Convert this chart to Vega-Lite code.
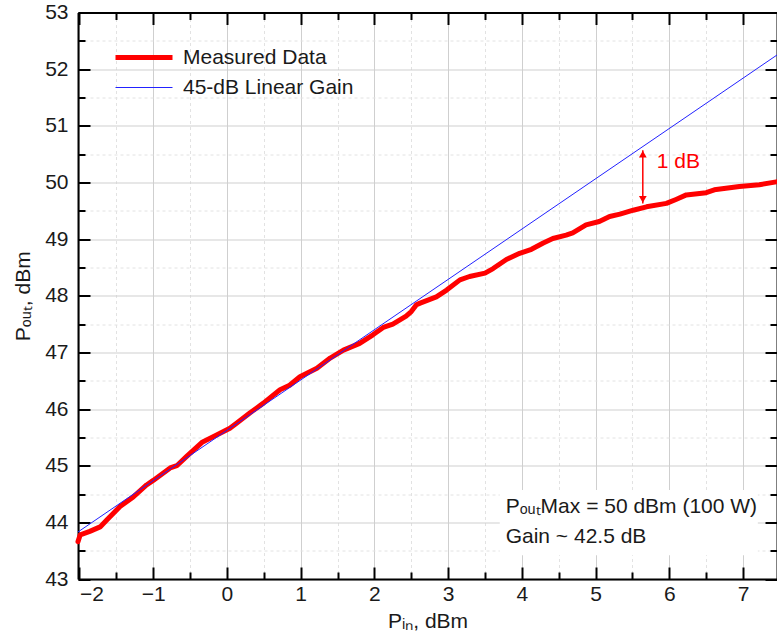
{
  "$schema": "https://vega.github.io/schema/vega-lite/v6.json",
  "width": 699,
  "height": 566.5,
  "autosize": {"type": "none"},
  "padding": {"left": 78, "top": 12.5, "right": 0, "bottom": 59},
  "config": {
    "font": "Liberation Sans",
    "view": {"stroke": null},
    "axis": {
      "domainColor": "#000000",
      "domainWidth": 2,
      "tickColor": "#000000",
      "tickWidth": 2,
      "tickSize": -12,
      "tickDash": {"condition": {"test": "datum.value % 1 !== 0", "value": [7, 60]}, "value": [12, 0]},
      "gridColor": {"condition": {"test": "datum.value % 1 !== 0", "value": "#e2e2e2"}, "value": "#cfcfcf"},
      "gridDash": {"condition": {"test": "datum.value % 1 !== 0", "value": [3, 3]}, "value": []},
      "gridWidth": 1,
      "labelFont": "Liberation Sans",
      "labelFontSize": 21,
      "labelColor": "#1a1a1a",
      "titleFont": "Liberation Sans",
      "titleFontSize": 21,
      "titleFontWeight": "normal",
      "titleColor": "#1a1a1a",
      "labelFlush": false,
      "labelOverlap": false
    },
    "legend": {
      "orient": "none",
      "legendX": 35,
      "legendY": 30,
      "symbolType": "stroke",
      "symbolSize": 3249,
      "clipHeight": 30,
      "labelFont": "Liberation Sans",
      "labelFontSize": 21,
      "labelColor": "#1a1a1a",
      "labelOffset": 8,
      "labelLimit": 400,
      "padding": 0,
      "rowPadding": 0
    }
  },
  "datasets": {
    "measured": [
      {"pin": -2.02, "pout": 43.66, "series": "Measured Data"},
      {"pin": -1.99, "pout": 43.78, "series": "Measured Data"},
      {"pin": -1.86, "pout": 43.84, "series": "Measured Data"},
      {"pin": -1.72, "pout": 43.92, "series": "Measured Data"},
      {"pin": -1.63, "pout": 44.04, "series": "Measured Data"},
      {"pin": -1.45, "pout": 44.28, "series": "Measured Data"},
      {"pin": -1.27, "pout": 44.45, "series": "Measured Data"},
      {"pin": -1.09, "pout": 44.66, "series": "Measured Data"},
      {"pin": -1.0, "pout": 44.74, "series": "Measured Data"},
      {"pin": -0.77, "pout": 44.96, "series": "Measured Data"},
      {"pin": -0.68, "pout": 45.0, "series": "Measured Data"},
      {"pin": -0.55, "pout": 45.16, "series": "Measured Data"},
      {"pin": -0.33, "pout": 45.42, "series": "Measured Data"},
      {"pin": -0.14, "pout": 45.54, "series": "Measured Data"},
      {"pin": 0.04, "pout": 45.66, "series": "Measured Data"},
      {"pin": 0.13, "pout": 45.75, "series": "Measured Data"},
      {"pin": 0.31, "pout": 45.93, "series": "Measured Data"},
      {"pin": 0.49, "pout": 46.1, "series": "Measured Data"},
      {"pin": 0.72, "pout": 46.34, "series": "Measured Data"},
      {"pin": 0.85, "pout": 46.42, "series": "Measured Data"},
      {"pin": 0.99, "pout": 46.57, "series": "Measured Data"},
      {"pin": 1.22, "pout": 46.72, "series": "Measured Data"},
      {"pin": 1.4, "pout": 46.9, "series": "Measured Data"},
      {"pin": 1.58, "pout": 47.04, "series": "Measured Data"},
      {"pin": 1.8, "pout": 47.16, "series": "Measured Data"},
      {"pin": 1.98, "pout": 47.31, "series": "Measured Data"},
      {"pin": 2.12, "pout": 47.44, "series": "Measured Data"},
      {"pin": 2.25, "pout": 47.5, "series": "Measured Data"},
      {"pin": 2.43, "pout": 47.64, "series": "Measured Data"},
      {"pin": 2.5, "pout": 47.72, "series": "Measured Data"},
      {"pin": 2.57, "pout": 47.84, "series": "Measured Data"},
      {"pin": 2.62, "pout": 47.87, "series": "Measured Data"},
      {"pin": 2.84, "pout": 47.98, "series": "Measured Data"},
      {"pin": 2.98, "pout": 48.1, "series": "Measured Data"},
      {"pin": 3.16, "pout": 48.28, "series": "Measured Data"},
      {"pin": 3.29, "pout": 48.34, "series": "Measured Data"},
      {"pin": 3.5, "pout": 48.4, "series": "Measured Data"},
      {"pin": 3.61, "pout": 48.48, "series": "Measured Data"},
      {"pin": 3.79, "pout": 48.64, "series": "Measured Data"},
      {"pin": 3.97, "pout": 48.75, "series": "Measured Data"},
      {"pin": 4.13, "pout": 48.82, "series": "Measured Data"},
      {"pin": 4.29, "pout": 48.93, "series": "Measured Data"},
      {"pin": 4.42, "pout": 49.01, "series": "Measured Data"},
      {"pin": 4.6, "pout": 49.07, "series": "Measured Data"},
      {"pin": 4.69, "pout": 49.11, "series": "Measured Data"},
      {"pin": 4.87, "pout": 49.25, "series": "Measured Data"},
      {"pin": 5.05, "pout": 49.31, "series": "Measured Data"},
      {"pin": 5.19, "pout": 49.4, "series": "Measured Data"},
      {"pin": 5.33, "pout": 49.44, "series": "Measured Data"},
      {"pin": 5.51, "pout": 49.51, "series": "Measured Data"},
      {"pin": 5.69, "pout": 49.57, "series": "Measured Data"},
      {"pin": 5.96, "pout": 49.63, "series": "Measured Data"},
      {"pin": 6.09, "pout": 49.7, "series": "Measured Data"},
      {"pin": 6.23, "pout": 49.78, "series": "Measured Data"},
      {"pin": 6.5, "pout": 49.82, "series": "Measured Data"},
      {"pin": 6.61, "pout": 49.87, "series": "Measured Data"},
      {"pin": 6.95, "pout": 49.93, "series": "Measured Data"},
      {"pin": 7.22, "pout": 49.96, "series": "Measured Data"},
      {"pin": 7.45, "pout": 50.01, "series": "Measured Data"}
    ],
    "linear": [
      {"pin": -2.02, "pout": 43.83, "series": "45-dB Linear Gain"},
      {"pin": 7.46, "pout": 52.25, "series": "45-dB Linear Gain"}
    ],
    "arrow": [
      {"pin": 5.64, "lo": 49.63, "hi": 50.57}
    ],
    "heads": [
      {"pin": 5.64, "pout": 50.5, "dir": "up"},
      {"pin": 5.64, "pout": 49.7, "dir": "down"}
    ],
    "redlabel": [
      {"pin": 5.83, "pout": 50.36, "text": "1 dB"}
    ],
    "box": [
      {"x1": 3.7, "x2": 7.2, "y1": 43.42, "y2": 44.57}
    ],
    "notes": [
      {"pin": 3.78, "pout": 44.27, "text": "PₒᵤₜMax = 50 dBm (100 W)"},
      {"pin": 3.78, "pout": 43.75, "text": "Gain ~ 42.5 dB"}
    ]
  },
  "layer": [
    {
      "data": {"name": "box"},
      "mark": {"type": "rect", "fill": "#ffffff", "stroke": null},
      "encoding": {
        "x": {"field": "x1", "type": "quantitative", "scale": {"domain": [-2.02, 7.46], "nice": false, "zero": false},
          "axis": {
            "orient": "bottom",
            "values": [-2, -1.5, -1, -0.5, 0, 0.5, 1, 1.5, 2, 2.5, 3, 3.5, 4, 4.5, 5, 5.5, 6, 6.5, 7],
            "title": "Pᵢₙ, dBm",
            "titlePadding": 6,
            "grid": true,
            "labelExpr": "datum.value % 1 !== 0 ? '' : format(datum.value, 'd')",
            "labelPadding": 16,
            "labelFlush": 3
          }
        },
        "x2": {"field": "x2"},
        "y": {"field": "y1", "type": "quantitative", "scale": {"domain": [43, 53], "nice": false, "zero": false},
          "axis": {
            "orient": "left",
            "values": [43, 43.5, 44, 44.5, 45, 45.5, 46, 46.5, 47, 47.5, 48, 48.5, 49, 49.5, 50, 50.5, 51, 51.5, 52, 52.5, 53],
            "title": "Pₒᵤₜ, dBm",
            "titlePadding": 11,
            "grid": true,
            "labelExpr": "datum.value % 1 !== 0 ? '' : format(datum.value, 'd')",
            "labelPadding": 22
          }
        },
        "y2": {"field": "y2"}
      }
    },
    {
      "data": {"name": "measured"},
      "mark": {"type": "line", "strokeJoin": "round", "strokeCap": "round"},
      "encoding": {
        "x": {"field": "pin", "type": "quantitative", "axis": null},
        "y": {"field": "pout", "type": "quantitative", "axis": null},
        "color": {"field": "series", "type": "nominal", "title": null,
          "scale": {"domain": ["Measured Data", "45-dB Linear Gain"], "range": ["#ff0000", "#2222ff"]}},
        "strokeWidth": {"field": "series", "type": "nominal", "title": null,
          "scale": {"domain": ["Measured Data", "45-dB Linear Gain"], "range": [5, 1]}}
      }
    },
    {
      "data": {"name": "arrow"},
      "mark": {"type": "rule", "color": "#ff0000", "strokeWidth": 1.5},
      "encoding": {
        "x": {"field": "pin", "type": "quantitative", "axis": null},
        "y": {"field": "lo", "type": "quantitative", "axis": null},
        "y2": {"field": "hi"}
      }
    },
    {
      "data": {"name": "heads"},
      "mark": {"type": "point", "filled": true, "color": "#ff0000", "size": 60, "opacity": 1},
      "encoding": {
        "x": {"field": "pin", "type": "quantitative", "axis": null},
        "y": {"field": "pout", "type": "quantitative", "axis": null},
        "shape": {"field": "dir", "type": "nominal", "legend": null,
          "scale": {"domain": ["up", "down"], "range": ["triangle-up", "triangle-down"]}}
      }
    },
    {
      "data": {"name": "redlabel"},
      "mark": {"type": "text", "color": "#ff0000", "fontSize": 21, "align": "left", "baseline": "middle", "font": "Liberation Sans"},
      "encoding": {
        "x": {"field": "pin", "type": "quantitative", "axis": null},
        "y": {"field": "pout", "type": "quantitative", "axis": null},
        "text": {"field": "text"}
      }
    },
    {
      "data": {"name": "notes"},
      "mark": {"type": "text", "color": "#1a1a1a", "fontSize": 21, "align": "left", "baseline": "middle", "font": "Liberation Sans"},
      "encoding": {
        "x": {"field": "pin", "type": "quantitative", "axis": null},
        "y": {"field": "pout", "type": "quantitative", "axis": null},
        "text": {"field": "text"}
      }
    },
    {
      "data": {"name": "linear"},
      "mark": {"type": "line"},
      "encoding": {
        "x": {"field": "pin", "type": "quantitative", "scale": {"domain": [-2.02, 7.46], "nice": false, "zero": false},
          "axis": {
            "orient": "top",
            "values": [-2, -1.5, -1, -0.5, 0, 0.5, 1, 1.5, 2, 2.5, 3, 3.5, 4, 4.5, 5, 5.5, 6, 6.5, 7],
            "title": null,
            "labels": false,
            "grid": false
          }
        },
        "y": {"field": "pout", "type": "quantitative", "scale": {"domain": [43, 53], "nice": false, "zero": false},
          "axis": {
            "orient": "right",
            "values": [43, 43.5, 44, 44.5, 45, 45.5, 46, 46.5, 47, 47.5, 48, 48.5, 49, 49.5, 50, 50.5, 51, 51.5, 52, 52.5, 53],
            "title": null,
            "labels": false,
            "grid": false
          }
        },
        "color": {"field": "series", "type": "nominal", "title": null,
          "scale": {"domain": ["Measured Data", "45-dB Linear Gain"], "range": ["#ff0000", "#2222ff"]}},
        "strokeWidth": {"field": "series", "type": "nominal", "title": null,
          "scale": {"domain": ["Measured Data", "45-dB Linear Gain"], "range": [5, 1]}}
      }
    }
  ],
  "resolve": {"axis": {"x": "independent", "y": "independent"}}
}
